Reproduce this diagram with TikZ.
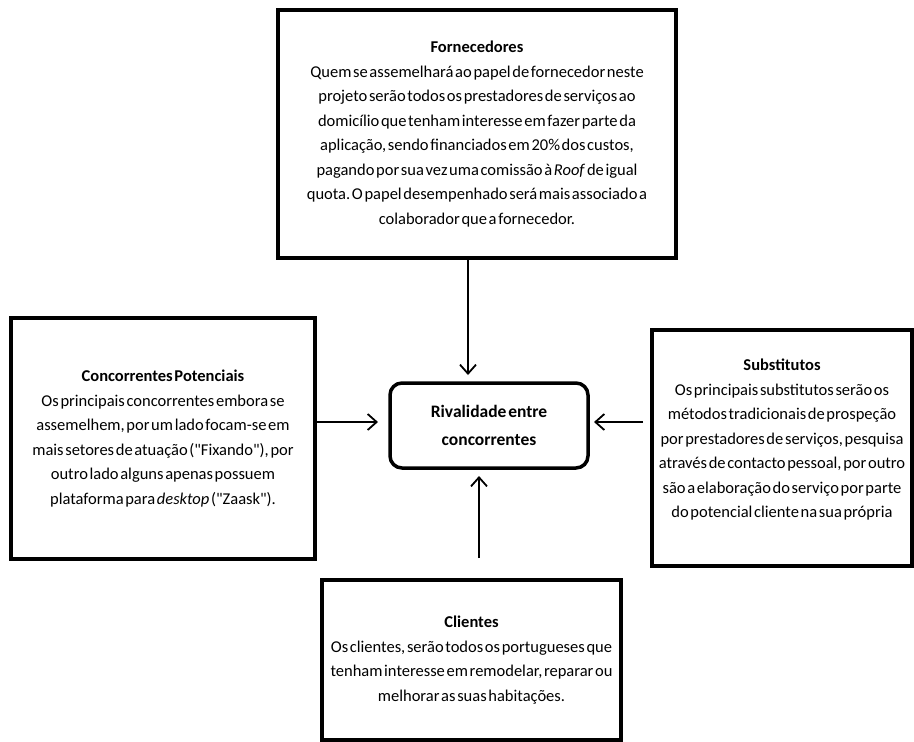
\documentclass[tikz,border=0pt]{standalone}
\usepackage{fontspec}
\setmainfont{Carlito}[WordSpace=0.45, Ligatures=TeXOff]
\usetikzlibrary{arrows.meta,positioning}
\frenchspacing
\tikzset{
  force/.style={draw, line width=4pt, outer sep=0pt, inner sep=0pt, align=center, font=\fontsize{16.5}{24.5}\selectfont},
  rivalbox/.style={force, line width=3.5pt, rounded corners=12pt, font=\fontsize{17.5}{28}\selectfont\bfseries},
  arr/.style={-{Straight Barb[length=9pt,width=16pt]}, line width=1.8pt}
}

\begin{document}
\begin{tikzpicture}[x=1pt, y=-1pt]
\useasboundingbox (0,0) rectangle (914,742);

\node[rivalbox, minimum width=198pt, minimum height=85pt] (rival) at (489,425.5) {Rivalidade entre\\concorrentes};

\node[force, minimum width=398pt, minimum height=248pt] (forn) at (477,134)
  {\textbf{Fornecedores}\\
   Quem se assemelhará ao papel de fornecedor neste\\
   projeto serão todos os prestadores de serviços ao\\
   domicílio que tenham interesse em fazer parte da\\
   aplicação, sendo financiados em 20\% dos custos,\\
   pagando por sua vez uma comissão à \textit{Roof} de igual\\
   quota. O papel desempenhado será mais associado a\\
   colaborador que a fornecedor.};

\node[force, minimum width=304pt, minimum height=241pt] (conc) at (163,438.5)
  {\textbf{Concorrentes Potenciais}\\
   Os principais concorrentes embora se\\
   assemelhem, por um lado focam-se em\\
   mais setores de atuação ("Fixando"), por\\
   outro lado alguns apenas possuem\\
   plataforma para \textit{desktop} ("Zaask").};

\node[force, minimum width=260pt, minimum height=236pt] (subs) at (782,448)
  {\textbf{Substitutos}\\
   Os principais substitutos serão os\\
   métodos tradicionais de prospeção\\
   por prestadores de serviços, pesquisa\\
   através de contacto pessoal, por outro\\
   são a elaboração do serviço por parte\\
   do potencial cliente na sua própria\\[-5pt]~};

\node[force, minimum width=299pt, minimum height=160pt] (cli) at (471.5,660)
  {\textbf{Clientes}\\
   Os clientes, serão todos os portugueses que\\
   tenham interesse em remodelar, reparar ou\\
   melhorar as suas habitações.};

% forcas sobre a rivalidade
\draw[arr, shorten >=8pt] ([xshift=-9pt]forn.south) -- ([xshift=-9pt]forn.south |- rival.north);
\draw[arr, shorten >=12pt] ([yshift=16.5pt]conc.east) -- ([yshift=16.5pt]conc.east -| rival.west);
\draw[arr, shorten <=9pt, shorten >=6pt] ([yshift=26pt]subs.west) -- ([yshift=26pt]subs.west -| rival.east);
\draw[arr, shorten <=22pt, shorten >=8pt] ([xshift=7.5pt]cli.north) -- ([xshift=7.5pt]cli.north |- rival.south);
\end{tikzpicture}
\end{document}
